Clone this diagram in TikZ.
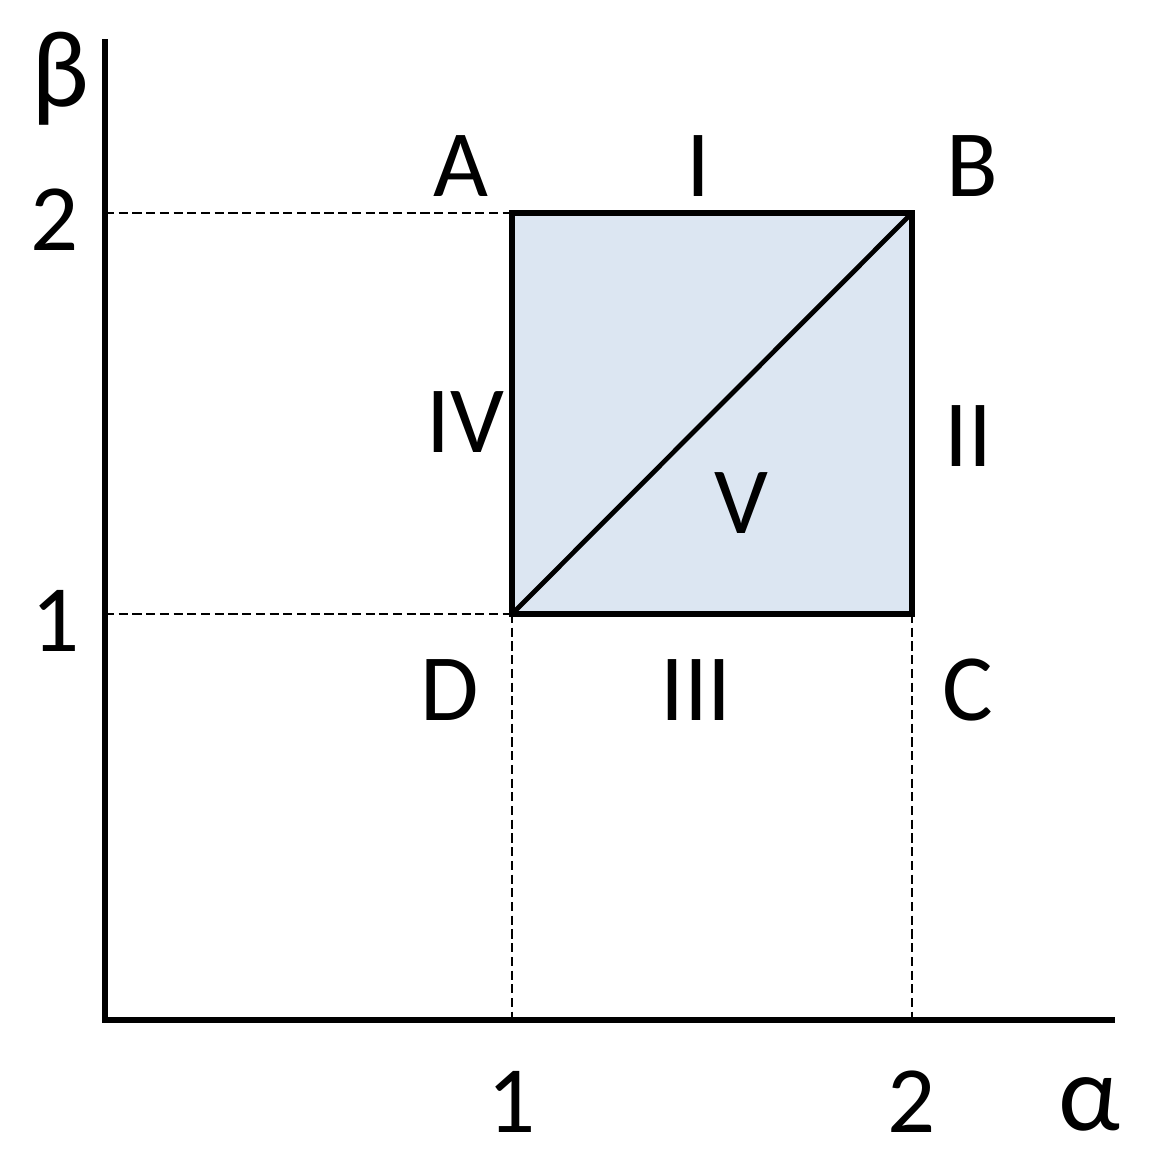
\documentclass[tikz,border=0pt]{standalone}
\usepackage{fontspec}
\setmainfont{Carlito}
\definecolor{gebiet}{RGB}{220,230,242}
\begin{document}
\begin{tikzpicture}[x=0.01cm, y=-0.01cm,
	achse/.style={line width=1.9pt, line cap=rect},
	rand/.style={line width=1.8pt, line join=miter},
	hilfslinie/.style={line width=0.65pt, dash pattern=on 2.6pt off 1.3pt},
	beschriftung/.style={font=\fontsize{27}{30}\selectfont},
	griechisch/.style={font=\fontsize{31}{34}\selectfont}]
	\useasboundingbox (0,0) rectangle (1150,1164);
	
	\coordinate (O) at (105,1020);%Ursprung
	\coordinate (yend) at (105,42);
	\coordinate (xend) at (1112,1020);
	\coordinate (A) at (512,213);
	\coordinate (B) at (912,213);
	\coordinate (C) at (912,614);
	\coordinate (D) at (512,614);
	
	\fill[gebiet] (A) rectangle (C);%Flaeche
	
	\draw[hilfslinie] (105,213) -- (A);%Projektion beta=2
	\draw[hilfslinie] (105,614) -- (D);%Projektion beta=1
	\draw[hilfslinie] (D) -- (512,1020);%Projektion alpha=1
	\draw[hilfslinie] (C) -- (912,1020);%Projektion alpha=2
	
	\draw[achse] (yend) -- (O) -- (xend);
	
	\draw[rand] (A) -- (B) -- (C) -- (D) -- cycle;
	\draw[line width=1.35pt] (D) -- (B);%Diagonale
	
	\node[griechisch] (beta) at (60,79) {β};
	\node[griechisch] (alpha) at (1089,1104) {α};
	\node[beschriftung] (b2) at (55,220) {2};
	\node[beschriftung] (b1) at (56,621) {1};
	\node[beschriftung] (a1) at (512,1102) {1};
	\node[beschriftung] (a2) at (912,1102) {2};
	
	\node[beschriftung] (lA) at (461,166) {A};
	\node[beschriftung] (lB) at (972,166) {B};
	\node[beschriftung] (lC) at (968,690) {C};
	\node[beschriftung] (lD) at (450,690) {D};
	
	\node[beschriftung] (s1) at (698,166) {I};
	\node[beschriftung] (s2) at (968,436) {II};
	\node[beschriftung] (s3) at (696,690) {III};
	\node[beschriftung] (s4) at (465,422) {IV};
	\node[beschriftung] (s5) at (741,503) {V};
\end{tikzpicture}
\end{document}
